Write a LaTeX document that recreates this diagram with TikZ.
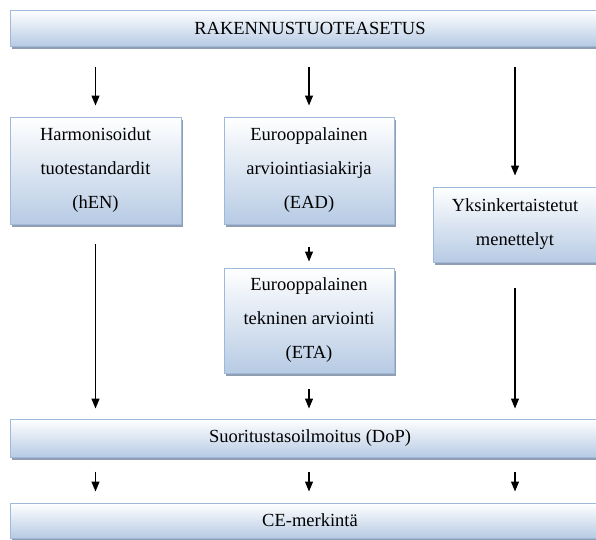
\documentclass[tikz,border=0pt]{standalone}
\usepackage{fontspec}
\setmainfont{Liberation Serif}
\usetikzlibrary{arrows.meta,shadows}
\definecolor{boxborder}{HTML}{9FB9DB}
\definecolor{boxblue}{HTML}{B7CBE4}
\definecolor{shadowgrey}{HTML}{8593A8}
\tikzset{
  flowbox/.style={draw=boxborder, line width=1pt, top color=white, bottom color=boxblue,
    align=center, inner sep=0pt, font=\fontsize{18.5}{34}\selectfont,
    drop shadow={shadow xshift=2pt, shadow yshift=-3pt, fill=shadowgrey, opacity=0.9}},
  widebox/.style={flowbox, minimum width=600pt},
  arr/.style={line width=1.2pt, -{Triangle[length=10pt,width=8pt]}}
}
\begin{document}
\begin{tikzpicture}[x=1pt,y=-1pt]
\useasboundingbox (0,0) rectangle (596,539);
\clip (0,0) rectangle (596,539);
\node[widebox, minimum height=36pt] (top) at (310,28) {RAKENNUSTUOTEASETUS};
\node[flowbox, minimum width=171pt, minimum height=107pt] (hEN) at (95.5,170.5) {Harmonisoidut\\tuotestandardit\\(hEN)};
\node[flowbox, minimum width=170pt, minimum height=107pt] (EAD) at (309,170.5) {Eurooppalainen\\arviointiasiakirja\\(EAD)};
\node[flowbox, minimum width=170pt, minimum height=105pt] (ETA) at (309,320.5) {Eurooppalainen\\tekninen arviointi\\(ETA)};
\node[flowbox, minimum width=164pt, minimum height=75pt] (Yks) at (515,224.5) {Yksinkertaistetut\\menettelyt};
\node[widebox, minimum height=38pt] (DoP) at (310,438) {Suoritustasoilmoitus (DoP)};
\node[widebox, minimum height=35pt] (CE) at (310,520.5) {CE-merkintä};

\draw[arr, shorten <=20pt, shorten >=11pt] (top.south -| hEN.north) -- (hEN.north);
\draw[arr, shorten <=20pt, shorten >=11pt] (top.south -| EAD.north) -- (EAD.north);
\draw[arr, shorten <=20pt, shorten >=11pt] (top.south -| Yks.north) -- (Yks.north);
\draw[arr, shorten <=22pt, shorten >=6pt] (EAD.south) -- (ETA.north);
\draw[arr, shorten <=19pt, shorten >=10pt] (hEN.south) -- (DoP.north -| hEN.south);
\draw[arr, shorten <=15pt, shorten >=10pt] (ETA.south) -- (DoP.north -| ETA.south);
\draw[arr, shorten <=25pt, shorten >=10pt] (Yks.south) -- (DoP.north -| Yks.south);
\draw[arr, shorten <=14pt, shorten >=11pt] (DoP.south -| hEN.south) -- (CE.north -| hEN.south);
\draw[arr, shorten <=14pt, shorten >=11pt] (DoP.south -| ETA.south) -- (CE.north -| ETA.south);
\draw[arr, shorten <=14pt, shorten >=11pt] (DoP.south -| Yks.south) -- (CE.north -| Yks.south);
\end{tikzpicture}
\end{document}
